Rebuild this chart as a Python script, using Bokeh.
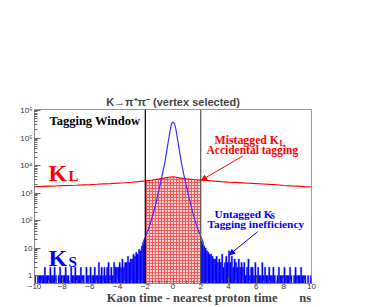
from bokeh.plotting import figure
from bokeh.models import Range1d, Span, Label, Arrow, NormalHead, FixedTicker
from bokeh.embed import file_html
from bokeh.resources import INLINE
import numpy as np

# ---------------- data ----------------
# K_L (accidental) distribution, sampled every 0.5 ns from -10 to 10
kl_t = [-10.0, -9.5, -9.0, -8.5, -8.0, -7.5, -7.0, -6.5, -6.0, -5.5, -5.0, -4.5, -4.0, -3.5,
        -3.0, -2.5, -2.0, -1.5, -1.0, -0.5, 0.0, 0.5, 1.0, 1.5, 2.0, 2.5, 3.0, 3.5, 4.0, 4.5,
        5.0, 5.5, 6.0, 6.5, 7.0, 7.5, 8.0, 8.5, 9.0, 9.5, 10.0]
kl_n = [1720, 1740, 1770, 1800, 1850, 1880, 1920, 1970, 2020, 2080, 2150, 2210, 2280, 2360,
        2460, 2600, 2780, 2980, 3250, 3600, 3900, 3550, 3300, 3100, 2950, 2850, 2720, 2600, 2500, 2420,
        2340, 2270, 2200, 2130, 2060, 2000, 1880, 1820, 1770, 1720, 1690]

# K_S peak (smooth curve inside the tagging window)
ks_t = [-2.2, -2.0, -1.8, -1.6, -1.4, -1.2, -1.0, -0.8, -0.6, -0.4, -0.3, -0.2, -0.1, 0.0,
        0.1, 0.2, 0.3, 0.4, 0.6, 0.8, 1.0, 1.2, 1.4, 1.6, 1.8, 2.0, 2.2]
ks_n = [14, 25, 45, 90, 200, 500, 1400, 4000, 12000, 50000, 100000, 200000, 330000, 380000,
        340000, 220000, 110000, 55000, 13000, 4200, 1500, 550, 220, 95, 48, 27, 15]

# K_S tails outside the window: histogram, 0.1 ns bins
bin_w = 0.1
ks_left_start = -10.0
ks_left = [1, 0, 1, 1, 1, 1, 1, 2, 1, 1,
           1, 2, 1, 1, 2, 1, 0, 1, 2, 1,
           1, 1, 2, 1, 1, 0, 2, 1, 1, 2,
           1, 1, 1, 2, 1, 1, 0, 2, 1, 1,
           2, 1, 1, 2, 1, 1, 3, 1, 2, 1,
           2, 1, 2, 3, 1, 2, 1, 3, 2, 2,
           2, 3, 2, 4, 2, 3, 3, 5, 3, 4,
           4, 6, 5, 7, 6, 9, 8, 12, 15, 19]
ks_right_start = 2.0
ks_right = [18, 15, 12, 10, 8, 7, 6, 6, 5, 4,
            4, 5, 3, 4, 3, 6, 2, 3, 5, 3,
            8, 3, 5, 2, 4, 3, 2, 4, 2, 3,
            2, 3, 1, 2, 4, 1, 2, 2, 1, 3,
            1, 2, 1, 1, 3, 1, 2, 1, 1, 2,
            1, 1, 2, 1, 0, 1, 2, 1, 1, 1,
            2, 1, 1, 1, 2, 1, 0, 1, 2, 1,
            1, 1, 2, 1, 1, 1, 0, 1, 0, 1]

window = [-2.0, 2.0]
x_ticks = [-10, -8, -6, -4, -2, 0, 2, 4, 6, 8, 10]
y_ticks = [1, 10, 100, 1000, 10000, 100000, 1000000]
y_tick_labels = ["1", "10", "10\u00b2", "10\u00b3", "10\u2074", "10\u2075", "10\u2076"]
x_title = "Kaon time - nearest proton time"
x_unit = "ns"

# ---------------- figure ----------------
Y0 = 10 ** (-0.289)
Y1 = 10 ** (6 + 1 / 27.67)

p = figure(width=366, height=307, x_range=Range1d(-10, 10), y_range=Range1d(Y0, Y1),
           y_axis_type="log", output_backend="svg", toolbar_location=None,
           min_border_left=34, min_border_right=55, min_border_top=109, min_border_bottom=23)
p.grid.visible = False
p.outline_line_color = "#9a9a9a"
p.background_fill_color = "white"
p.border_fill_color = "white"

p.title.text = "K\u2192\u03c0\u207a\u03c0\u207b (vertex selected)"
p.title.align = "center"
p.title.text_font = "Liberation Sans"
p.title.text_font_size = "11px"
p.title.text_font_style = "bold"
p.title.standoff = 3


def dx(px):
    return -10 + (px - 34) * 20.0 / 277.0


def dy(py):
    return 10 ** (6 - (py - 110) / 27.67)


# hatched K_L area inside the window
win_t = [t for t in kl_t if window[0] <= t <= window[1]]
win_n = [n for t, n in zip(kl_t, kl_n) if window[0] <= t <= window[1]]
p.varea(x=win_t, y1=[Y0 * 0.5] * len(win_t), y2=win_n, fill_color="#ffd6d6",
        hatch_pattern="cross", hatch_color="#f03030", hatch_scale=3, hatch_weight=1.1, hatch_alpha=0.75)

# K_S histogram tails
def bars(start, vals):
    xs, ts = [], []
    for i, v in enumerate(vals):
        if v > 0:
            xs.append(start + (i + 0.5) * bin_w)
            ts.append(v)
    return xs, ts

lx, lt = bars(ks_left_start, ks_left)
rx, rt = bars(ks_right_start, ks_right)
p.vbar(x=lx + rx, top=lt + rt, bottom=Y0 * 0.5, width=bin_w, fill_color="#0000ff",
       line_color="#0000ff", line_width=0.3)

# K_L line with edge drops
p.line(kl_t, kl_n, line_color="#ff0000", line_width=1.2)
p.segment(x0=[kl_t[0], kl_t[-1]], y0=[kl_n[0], kl_n[-1]], x1=[kl_t[0], kl_t[-1]],
          y1=[Y0 * 0.5, Y0 * 0.5], line_color="#ff8080", line_width=1.2)

# K_S peak
p.line(ks_t, ks_n, line_color="#3333ff", line_width=1.2)

# window lines
p.add_layout(Span(location=window[0], dimension="height", line_color="black", line_width=1.2))
p.add_layout(Span(location=window[1], dimension="height", line_color="#555555", line_width=1.2))

# axes
p.xaxis.ticker = FixedTicker(ticks=x_ticks, minor_ticks=list(np.arange(-10, 10.01, 0.5)))
p.yaxis.ticker = FixedTicker(ticks=y_ticks,
                             minor_ticks=[m * 10 ** e for e in range(0, 6) for m in range(2, 10)])
p.yaxis.major_label_overrides = {t: l for t, l in zip(y_ticks, y_tick_labels)}
for ax in (p.xaxis, p.yaxis):
    ax.axis_line_color = "#888888"
    ax.major_tick_line_color = "#666666"
    ax.minor_tick_line_color = "#666666"
    ax.major_tick_in = 6
    ax.major_tick_out = 0
    ax.minor_tick_in = 3
    ax.minor_tick_out = 0
    ax.major_label_text_font = "Liberation Sans"
    ax.major_label_text_font_size = "8px"
    ax.major_label_text_color = "#333333"
    ax.major_label_standoff = 2
p.xaxis.major_label_standoff = 0
# axis title, padded with non-breaking spaces so that the unit sits at the right end
nb = "\u00a0"
p.xaxis.axis_label = nb * 23 + x_title + nb * 7 + x_unit
p.xaxis.axis_label_text_font = "Liberation Serif"
p.xaxis.axis_label_text_font_style = "bold"
p.xaxis.axis_label_text_font_size = "12.5px"
p.xaxis.axis_label_standoff = -1

# ---------------- texts ----------------
def lab(x, y, text, size, color="black", font="Liberation Serif", style="bold",
        align="left", baseline="middle"):
    p.add_layout(Label(x=x, y=y, text=text, text_font=font, text_font_size=size,
                       text_font_style=style, text_color=color, text_align=align,
                       text_baseline=baseline))

lab(dx(49), dy(121), "Tagging Window", "12.5px")

lab(dx(48), dy(173), "K", "24px", color="#ff0000", baseline="alphabetic")
lab(dx(68), dy(176), "L", "15px", color="#ff0000", baseline="alphabetic")
lab(dx(48), dy(258), "K", "24px", color="#0000ff", baseline="alphabetic")
lab(dx(68), dy(262), "S", "15px", color="#0000ff", baseline="alphabetic")

lab(dx(214), dy(140), "Mistagged K", "11.8px", color="#ff0000")
lab(dx(279), dy(143), "L", "8px", color="#ff0000")
lab(dx(206), dy(149.5), "Accidental tagging", "11.5px", color="#ff0000")

lab(dx(214), dy(214), "Untagged K", "11.3px", color="#0000ff")
lab(dx(270), dy(217), "S", "8px", color="#0000ff")
lab(dx(207), dy(224), "Tagging inefficiency", "11.3px", color="#0000ff")

p.add_layout(Arrow(end=NormalHead(size=5, fill_color="#ff0000", line_color="#ff0000"),
                   x_start=dx(242), y_start=dy(156), x_end=dx(201), y_end=dy(180),
                   line_color="#ff0000", line_width=1))
p.add_layout(Arrow(end=NormalHead(size=5, fill_color="#0000ff", line_color="#0000ff"),
                   x_start=dx(257), y_start=dy(232), x_end=dx(229), y_end=dy(255),
                   line_color="#0000ff", line_width=1))

open("out.html", "w").write(file_html(p, INLINE))
